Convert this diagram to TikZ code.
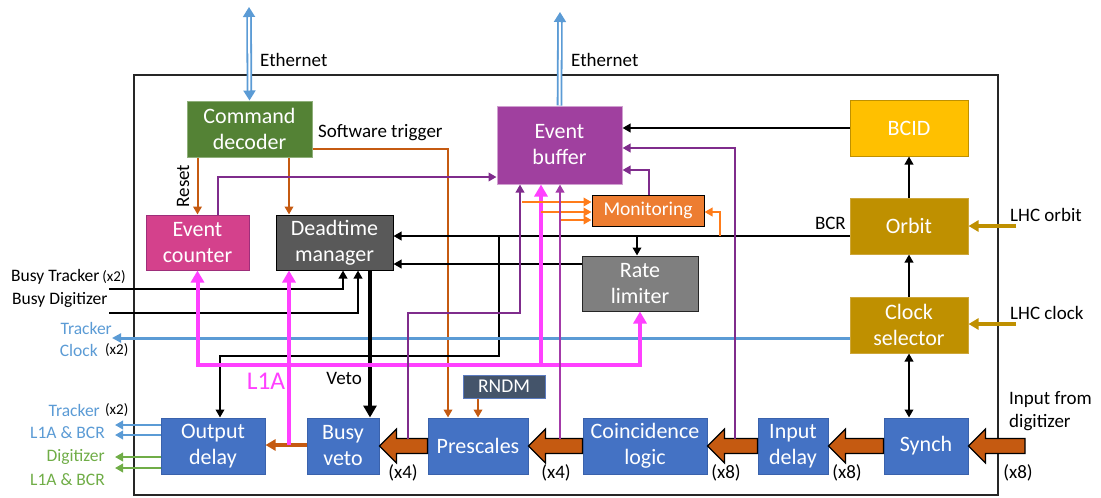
\documentclass[tikz,border=0pt]{standalone}
\usepackage{fontspec}
\setmainfont{Carlito}
\usetikzlibrary{arrows.meta,calc}
\definecolor{cgreen}{HTML}{548235}
\definecolor{cgreenb}{HTML}{8FAF7A}
\definecolor{cpink}{HTML}{D4418C}
\definecolor{cpinkb}{HTML}{9E2E7A}
\definecolor{cdark}{HTML}{595959}
\definecolor{cpurp}{HTML}{A0409F}
\definecolor{cpurpb}{HTML}{D0A0D0}
\definecolor{cmon}{HTML}{ED7D31}
\definecolor{cbcid}{HTML}{FFC000}
\definecolor{cgold}{HTML}{BF9000}
\definecolor{cgoldb}{HTML}{CDA63A}
\definecolor{cgray}{HTML}{7F7F7F}
\definecolor{crndm}{HTML}{44546A}
\definecolor{crndmb}{HTML}{5B7BC0}
\definecolor{cblue}{HTML}{4472C4}
\definecolor{cblueb}{HTML}{3A62AC}
\definecolor{lblue}{HTML}{5B9BD5}
\definecolor{lgreen}{HTML}{70AD47}
\definecolor{lpink}{HTML}{FF40FF}
\definecolor{lpurp}{HTML}{7F2C8C}
\definecolor{lpurp2}{HTML}{A33AA8}
\definecolor{lorange}{HTML}{C55A11}
\definecolor{lorange2}{HTML}{FF7C1A}
\definecolor{lgold}{HTML}{BF9000}
\tikzset{
  PT/.tip={Triangle[length=12pt,width=13pt]},
  ST/.tip={Triangle[length=8pt,width=8.5pt]},
  ET/.tip={Triangle[length=10pt,width=12pt]},
  box/.style={draw, line width=1pt, inner sep=0pt, text=white, align=center,
    font=\fontsize{22}{26}\selectfont},
  lbl/.style={font=\fontsize{19}{22}\selectfont, inner sep=0pt},
  sml/.style={font=\fontsize{17.5}{20}\selectfont, inner sep=0pt},
  blk/.style={draw=black, line width=2.4pt, -ST},
  pnk/.style={draw=lpink, line width=4pt},
  pur/.style={draw=lpurp, line width=2.3pt, -ST},
  pur2/.style={draw=lpurp2, line width=2.3pt, -ST},
  org/.style={draw=lorange, line width=2pt, -ST},
  org2/.style={draw=lorange2, line width=2.2pt, -ST},
  gld/.style={draw=lgold, line width=3.5pt, -{Triangle[length=10pt,width=11pt]}},
  outb/.style={draw=lblue, line width=2.4pt, -ST},
  outg/.style={draw=lgreen, line width=2.4pt, -ST},
  eth/.style={draw=lblue, line width=1.8pt, double=white, double distance=2pt},
  bigarr/.style={draw=black, line width=1.2pt, fill=lorange},
}
\newcommand\bkarrow[2]{%
  \draw[bigarr] let \p1=(#1), \p2=(#2) in
    (\x1,\y1+7.5pt) -- (\x2+17pt,\y1+7.5pt) -- (\x2+17pt,\y1+17pt) -- (\x2,\y1)
    -- (\x2+17pt,\y1-17pt) -- (\x2+17pt,\y1-7.5pt) -- (\x1,\y1-7.5pt) -- cycle;}
\begin{document}
\begin{tikzpicture}[x=1pt,y=-1pt]
\useasboundingbox (0,0) rectangle (1101,498);
% frame
\draw[line width=1.3pt, black!85] (134,75) rectangle (998,495);

% nodes
\node[box, fill=cgreen, draw=cgreenb, minimum width=125pt, minimum height=56pt] (cmd) at (249.5,129) {Command\\decoder};
\node[box, fill=cpink, draw=cpinkb, minimum width=103pt, minimum height=55pt] (evc) at (197.5,242.5) {Event\\counter};
\node[box, fill=cdark, draw=black, minimum width=117pt, minimum height=55pt] (dtm) at (334.5,242.5) {Deadtime\\manager};
\node[box, fill=cpurp, draw=cpurpb, minimum width=125pt, minimum height=78pt] (evb) at (559.5,145) {Event\\buffer};
\node[box, fill=cmon, draw=black, minimum width=112pt, minimum height=31pt, font=\fontsize{19.5}{22}\selectfont] (mon) at (648,210.5) {Monitoring};
\node[box, fill=cbcid, draw=cgold, minimum width=118pt, minimum height=56pt] (bcid) at (909,128) {BCID};
\node[box, fill=cgold, draw=cgoldb, minimum width=118pt, minimum height=56pt] (orbit) at (909,226) {Orbit};
\node[box, fill=cgold, draw=cgoldb, minimum width=118pt, minimum height=56pt] (clk) at (909,325) {Clock\\selector};
\node[box, fill=cgray, draw=black!85, minimum width=116pt, minimum height=55pt] (rate) at (640,283.5) {Rate\\limiter};
\node[box, fill=crndm, draw=crndmb, minimum width=82pt, minimum height=23pt, font=\fontsize{19.5}{22}\selectfont] (rndm) at (504,386.5) {RNDM};
\node[box, fill=cblue, draw=cblueb, minimum width=104pt, minimum height=56pt] (outd) at (213,446) {Output\\delay};
\node[box, fill=cblue, draw=cblueb, minimum width=72pt, minimum height=56pt] (busy) at (343,446) {Busy\\veto};
\node[box, fill=cblue, draw=cblueb, minimum width=100pt, minimum height=56pt] (pres) at (478,446) {Prescales};
\node[box, fill=cblue, draw=cblueb, minimum width=124pt, minimum height=56pt] (coin) at (645,446) {Coincidence\\logic};
\node[box, fill=cblue, draw=cblueb, minimum width=70pt, minimum height=56pt] (ind) at (793,446) {Input\\delay};
\node[box, fill=cblue, draw=cblueb, minimum width=84pt, minimum height=56pt] (synch) at (926,446) {Synch};

% free ends
\coordinate (eth1) at (249,7);
\coordinate (eth2) at (560,12);
\coordinate (lhco) at (1016,226);
\coordinate (lhcc) at (1016,324);
\coordinate (din) at (1025,446);
\coordinate (bt) at (109,289);
\coordinate (bd) at (109,313);
\coordinate (tck) at (112,338);

% ethernet
\draw[eth, ET-ET] (eth1) -- (cmd.north);
\draw[eth, -ET] (evb.north) -- (eth2);
\node[lbl, anchor=west] (e1) at (260,60) {Ethernet};
\node[lbl, anchor=west] (e2) at (571,60) {Ethernet};

% command decoder outputs
\draw[org] (evc.north |- cmd.south) -- (evc.north);
\node[lbl, rotate=90] (rst) at (183,186) {Reset};
\draw[org] (289,0 |- cmd.south) -- (289,0 |- dtm.north);
\draw[org] (cmd.east |- 0,149) -- (448,149) -- (448,0 |- pres.north);
\node[lbl, anchor=west] (sw) at (318,133) {Software trigger};

% event counter -> event buffer
\draw[pur] (218,0 |- evc.north) -- (218,177) -- (evb.west |- 0,177);

% BCID -> event buffer
\draw[blk] (bcid.west) -- (evb.east |- bcid.west);
% monitoring -> event buffer
\draw[pur] (649,0 |- mon.north) -- (649,170) -- (evb.east |- 0,170);

% orbit / clock chain
\draw[blk] (orbit.north) -- (bcid.south);
\draw[blk] (clk.north) -- (orbit.south);
\draw[blk, ST-ST] (clk.south) -- (clk.south |- synch.north);
\draw[gld] (lhco) -- (orbit.east |- lhco);
\draw[gld] (lhcc) -- (clk.east |- lhcc);
\node[lbl, anchor=west] (lo) at (1010,215) {LHC orbit};
\node[lbl, anchor=west] (lc) at (1010,313) {LHC clock};

% BCR
\draw[blk] (orbit.west |- 0,236) -- (dtm.east |- 0,236);
\node[lbl, anchor=east] (bcr) at (846,223) {BCR};
\draw[org2] (720,236) -- (720,212) -- (mon.east |- 0,212);
\draw[blk] (637,236) -- (637,0 |- rate.north);
\draw[blk] (499,236) -- (499,356) -- (220,356) -- (220,0 |- outd.north);
\draw[blk] (rate.west |- 0,264) -- (dtm.east |- 0,264);

% busy inputs
\draw[blk] (bt) -- (343,289) -- (343,0 |- dtm.south);
\draw[blk] (bd) -- (358,313) -- (358,0 |- dtm.south);
\node[sml, anchor=west] (btl) at (11,277) {Busy Tracker\,{\fontsize{15}{15}\selectfont(x2)}};
\node[sml, anchor=west] (bdl) at (12,300) {Busy Digitizer};

% tracker clock
\draw[draw=lblue, line width=3pt, -{Triangle[length=9pt,width=9pt]}] (clk.west |- tck) -- (tck);
\node[sml, anchor=east, text=lblue] (tc1) at (112,328) {Tracker};
\node[sml, anchor=east, text=lblue] (tc2) at (98,350) {Clock};
\node[sml, anchor=west, font=\fontsize{15}{15}\selectfont] (tc3) at (105,350) {(x2)};

% veto
\draw[draw=black, line width=4pt, -PT] (370,0 |- dtm.south) -- (370,0 |- busy.north);
\node[lbl, anchor=east] (veto) at (362,378) {Veto};

% L1A
\draw[draw=lorange, line width=3.5pt, -{Triangle[length=10pt,width=11pt]}] (busy.west |- 0,445) -- (outd.east |- 0,445);
\draw[pnk, -PT] (289,445) -- (289,0 |- dtm.south);
\draw[pnk, PT-PT] (evc.south) -- (197.5,365) -- (640,365) -- (rate.south);
\draw[pnk, -PT] (541,365) -- (541,0 |- evb.south);
\node[font=\fontsize{25.5}{28}\selectfont, text=lpink, inner sep=0pt] (l1a) at (266,381) {L1A};

% monitoring taps
\draw[org2] (522,202) -- (mon.west |- 0,202);
\draw[org2] (541,212) -- (mon.west |- 0,212);
\draw[org2] (560,220) -- (mon.west |- 0,220);

% RNDM
\draw[org] (478,0 |- rndm.south) -- (478,0 |- pres.north);

% block arrows
\bkarrow{din}{synch.east}
\bkarrow{synch.west}{ind.east}
\bkarrow{ind.west}{coin.east}
\bkarrow{coin.west}{pres.east}
\bkarrow{pres.west}{busy.east}

% purple taps to event buffer
\draw[pur] (408,438.5) -- (408,313) -- (520,313) -- (520,0 |- evb.south);
\draw[pur2] (560,438.5) -- (560,0 |- evb.south);
\draw[pur] (735,438.5) -- (735,148) -- (evb.east |- 0,148);

% multiplicity labels
\node[lbl] (m1) at (403,473) {(x4)};
\node[lbl] (m2) at (556,473) {(x4)};
\node[lbl] (m3) at (726,473) {(x8)};
\node[lbl] (m4) at (847,473) {(x8)};
\node[lbl] (m5) at (1018,473) {(x8)};
\node[lbl, anchor=west, align=left, font=\fontsize{19}{23}\selectfont] (inl) at (1009,411) {Input from\\digitizer};

% outputs
\draw[outb] (outd.west |- 0,425) -- (115,425);
\draw[outb] (outd.west |- 0,435) -- (115,435);
\draw[outg] (outd.west |- 0,457) -- (115,457);
\draw[outg] (outd.west |- 0,468) -- (115,468);
\node[sml, anchor=east, text=lblue] (o1) at (100,410) {Tracker};
\node[anchor=west, inner sep=0pt, font=\fontsize{15}{15}\selectfont] (o1b) at (105,410) {(x2)};
\node[sml, anchor=east, text=lblue] (o2) at (105,433) {L1A \& BCR};
\node[sml, anchor=east, text=lgreen] (o3) at (105,457) {Digitizer};
\node[sml, anchor=east, text=lgreen] (o4) at (105,480) {L1A \& BCR};
\end{tikzpicture}
\end{document}
